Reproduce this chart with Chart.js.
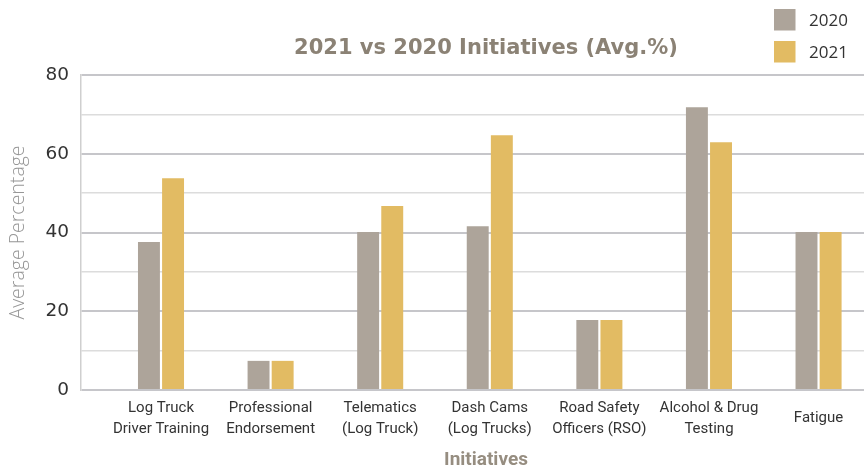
<!DOCTYPE html>
<html>
<head>
<meta charset="utf-8">
<title>2021 vs 2020 Initiatives</title>
<script src="https://cdn.jsdelivr.net/npm/chart.js@4"></script>
<style>
  html, body { margin: 0; padding: 0; background: #ffffff; overflow: hidden; }
  #wrap { width: 891px; height: 470px; position: relative; }
</style>
</head>
<body>
<div id="wrap"><canvas id="chart"></canvas></div>
<script>
// ---- data ----
const categories = [
  'Log Truck Driver Training',
  'Professional Endorsement',
  'Telematics (Log Truck)',
  'Dash Cams (Log Trucks)',
  'Road Safety Officers (RSO)',
  'Alcohol & Drug Testing',
  'Fatigue'
];
const tickLabels = [
  ['Log Truck', 'Driver Training'],
  ['Professional', 'Endorsement'],
  ['Telematics', '(Log Truck)'],
  ['Dash Cams', '(Log Trucks)'],
  ['Road Safety', 'Officers (RSO)'],
  ['Alcohol & Drug', 'Testing'],
  ['Fatigue']
];
const seriesNames = ['2020', '2021'];
const values2020 = [37.6, 7.4, 40.1, 41.6, 17.8, 71.8, 40.1];
const values2021 = [53.8, 7.4, 46.7, 64.7, 17.8, 62.9, 40.1];
const yLabelValues = [0, 20, 40, 60, 80];

// ---- styles ----
const colors = ['#ada49a', '#e2bb63'];

const toPoints = (vals) => vals.map((v, i) => ({ x: i, y: v }));

const sideLegend = {
  id: 'sideLegend',
  afterDraw(chart) {
    const ctx = chart.ctx;
    ctx.save();
    chart.data.datasets.forEach((ds, i) => {
      const bx = 774, by = 9 + i * 32, bs = 21.5;
      ctx.fillStyle = ds.backgroundColor;
      ctx.fillRect(bx, by, bs, bs);
      ctx.fillStyle = '#333333';
      ctx.font = '17px "Open Sans", sans-serif';
      ctx.textAlign = 'left';
      ctx.textBaseline = 'middle';
      ctx.fillText(ds.label, 809, by + bs / 2 + 1);
    });
    ctx.restore();
  }
};

new Chart(document.getElementById('chart'), {
  type: 'bar',
  data: {
    datasets: [
      { label: seriesNames[0], data: toPoints(values2020), backgroundColor: colors[0] },
      { label: seriesNames[1], data: toPoints(values2021), backgroundColor: colors[1] }
    ]
  },
  options: {
    responsive: true,
    maintainAspectRatio: false,
    animation: false,
    layout: { padding: 0 },
    datasets: { bar: { categoryPercentage: 0.44, barPercentage: 0.91 } },
    plugins: {
      legend: { display: false },
      tooltip: { enabled: false },
      title: {
        display: true,
        fullSize: false,
        text: '2021 vs 2020 Initiatives (Avg.%)',
        color: '#8b8275',
        font: { family: '"DejaVu Sans", sans-serif', size: 21, weight: 'bold' },
        padding: { top: 36, bottom: 13.8 }
      }
    },
    scales: {
      x: {
        type: 'linear',
        offset: false,
        min: -0.730,
        max: 6.661,
        grid: { display: false, drawTicks: false, offset: false },
        border: { display: false },
        afterBuildTicks: (s) => { s.ticks = categories.map((_, i) => ({ value: i })); },
        afterFit: (s) => { s.height = 80; },
        ticks: {
          autoSkip: false,
          maxRotation: 0,
          minRotation: 0,
          crossAlign: 'center',
          padding: 18,
          color: '#333333',
          font: { family: 'Roboto, sans-serif', size: 15, lineHeight: 1.4 },
          callback: (v) => tickLabels[v]
        },
        title: {
          display: true,
          text: 'Initiatives',
          color: '#968d80',
          font: { family: 'Roboto, sans-serif', size: 19, weight: 'bold', lineHeight: 1 },
          padding: { top: 0, bottom: 0.5 }
        }
      },
      y: {
        min: 0,
        max: 80,
        afterFit: (s) => { s.width = 81; },
        ticks: {
          stepSize: 10,
          padding: 12,
          color: '#333333',
          font: { family: '"DejaVu Sans", sans-serif', size: 18.5 },
          callback: (v) => (yLabelValues.includes(v) ? v : '')
        },
        grid: {
          drawTicks: false,
          color: (c) => (c.tick && yLabelValues.includes(c.tick.value) ? '#c6c6ca' : '#dcdcdc'),
          lineWidth: (c) => (c.tick && yLabelValues.includes(c.tick.value) ? 2 : 1.5)
        },
        border: { display: true, color: '#cfcfcf', width: 1.5 },
        title: {
          display: true,
          text: 'Average Percentage',
          color: '#979797',
          font: { family: '"Open Sans", sans-serif', size: 19.5, weight: '300' },
          padding: { top: 7, bottom: 0 }
        }
      }
    }
  },
  plugins: [sideLegend]
});
</script>
</body>
</html>
